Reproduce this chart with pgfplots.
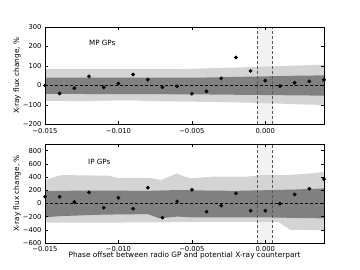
\documentclass[border=0pt]{standalone}
\usepackage{fontspec}
\setmainfont{DejaVu Sans}
\usepackage{pgfplots}
\pgfplotsset{compat=1.18}
\definecolor{lightband}{gray}{0.83}
\definecolor{darkband}{gray}{0.50}
\definecolor{strip}{gray}{0.95}
\pgfplotsset{myax/.style={
  scale only axis, width=279bp,
  xmin=-0.015, xmax=0.004,
  axis on top,
  axis line style={black, line width=0.5pt},
  tick style={black, line width=0.4pt}, major tick length=3bp,
  tick align=inside,
  xtick={-0.015,-0.01,-0.005,0},
  xticklabels={−0.015,−0.010,−0.005,0.000},
  scaled x ticks=false,
  ticklabel style={font=\fontsize{6.8}{7}\selectfont},
  label style={font=\fontsize{7.4}{8}\selectfont},
  ylabel={X-ray flux change, \%},
  ylabel style={at={(axis description cs:-0.1,0.5)}, anchor=center},
}}
\begin{document}
\begin{tikzpicture}[x=1bp,y=1bp]
\useasboundingbox (0,0) rectangle (360,270);
% ---------- top panel: MP GPs ----------
\begin{axis}[myax, at={(45bp,145.5bp)}, anchor=south west, height=97.5bp,
  ymin=-200, ymax=300,
  ytick={-200,-100,0,100,200,300},
  yticklabels={−200,−100,0,100,200,300}]
\addplot[fill=strip, draw=none] coordinates {(-0.00057,-200)(0.00045,-200)(0.00045,300)(-0.00057,300)} -- cycle;
\addplot[fill=lightband, draw=none] coordinates {
 (-0.015,84)(-0.010,84)(-0.006,84)(-0.004,88)(-0.002,92)(0,97)(0.002,102)(0.004,107)
 (0.004,-100)(0.002,-96)(0,-90)(-0.003,-85)(-0.006,-82)(-0.008,-80)(-0.009,-76)(-0.010,-76)(-0.012,-80)(-0.015,-79)} -- cycle;
\addplot[fill=darkband, draw=none] coordinates {
 (-0.015,41)(-0.004,41)(-0.002,44)(0,47)(0.002,50)(0.004,52)
 (0.004,-52)(0,-49)(-0.004,-46)(-0.006,-45)(-0.015,-43)} -- cycle;
\addplot[black, line width=0.4pt, dash pattern=on 3bp off 2bp] coordinates {(-0.015,0)(0.004,0)};
\addplot[black!65, line width=0.4pt, dash pattern=on 3bp off 2bp] coordinates {(-0.00057,-200)(-0.00057,300)};
\addplot[black!65, line width=0.4pt, dash pattern=on 3bp off 2bp] coordinates {(0.00045,-200)(0.00045,300)};
\addplot[only marks, mark=*, mark size=1.7bp, black] coordinates {
 (-0.015,0)(-0.014,-41)(-0.013,-14)(-0.012,47)(-0.011,-10)(-0.010,10)(-0.009,56)(-0.008,30)(-0.007,-9)(-0.006,-4)
 (-0.005,-42)(-0.004,-30)(-0.003,37)(-0.002,144)(-0.001,75)(0.000,25)(0.001,-3)(0.002,14)(0.003,21)(0.004,29)};
\node[font=\fontsize{7.2}{8}\selectfont] at (axis cs:-0.0111,218) {MP GPs};
\end{axis}
% ---------- bottom panel: IP GPs ----------
\begin{axis}[myax, at={(45bp,27bp)}, anchor=south west, height=99bp,
  ymin=-600, ymax=900,
  ytick={-600,-400,-200,0,200,400,600,800},
  yticklabels={−600,−400,−200,0,200,400,600,800},
  xlabel={Phase offset between radio GP and potential X-ray counterpart},
  xlabel style={at={(axis description cs:0.5,-0.125)}, anchor=center}]
\addplot[fill=strip, draw=none] coordinates {(-0.00057,-600)(0.00045,-600)(0.00045,900)(-0.00057,900)} -- cycle;
\addplot[fill=lightband, draw=none] coordinates {
 (-0.015,354)(-0.0139,430)(-0.0125,425)(-0.0107,420)(-0.0100,385)(-0.0078,385)(-0.0071,354)(-0.0060,455)(-0.0058,430)(-0.0051,380)
 (-0.0036,404)(-0.0013,404)(-0.0002,430)(0.0016,430)(0.0032,455)(0.004,480)
 (0.004,-405)(0.0017,-400)(0.0009,-280)(-0.003,-278)(-0.006,-285)(-0.010,-290)(-0.015,-293)} -- cycle;
\addplot[fill=darkband, draw=none] coordinates {
 (-0.015,187)(-0.012,195)(-0.008,190)(-0.006,202)(-0.004,195)(-0.002,190)(0,200)(0.002,210)(0.004,227)
 (0.004,-227)(0,-212)(-0.005,-212)(-0.006,-200)(-0.0072,-227)(-0.008,-162)(-0.011,-170)(-0.014,-193)(-0.015,-212)} -- cycle;
\addplot[black, line width=0.4pt, dash pattern=on 3bp off 2bp] coordinates {(-0.015,0)(0.004,0)};
\addplot[black!65, line width=0.4pt, dash pattern=on 3bp off 2bp] coordinates {(-0.00057,-600)(-0.00057,900)};
\addplot[black!65, line width=0.4pt, dash pattern=on 3bp off 2bp] coordinates {(0.00045,-600)(0.00045,900)};
\addplot[only marks, mark=*, mark size=1.7bp, black] coordinates {
 (-0.015,101)(-0.014,101)(-0.013,20)(-0.012,167)(-0.011,-66)(-0.010,86)(-0.009,-81)(-0.008,237)(-0.007,-217)(-0.006,30)
 (-0.005,207)(-0.004,-126)(-0.003,-35)(-0.002,152)(-0.001,-111)(0.000,-111)(0.001,-5)(0.002,136)(0.003,222)(0.004,369)};
\node[font=\fontsize{7.2}{8}\selectfont] at (axis cs:-0.0113,626) {IP GPs};
\end{axis}
\end{tikzpicture}
\end{document}
